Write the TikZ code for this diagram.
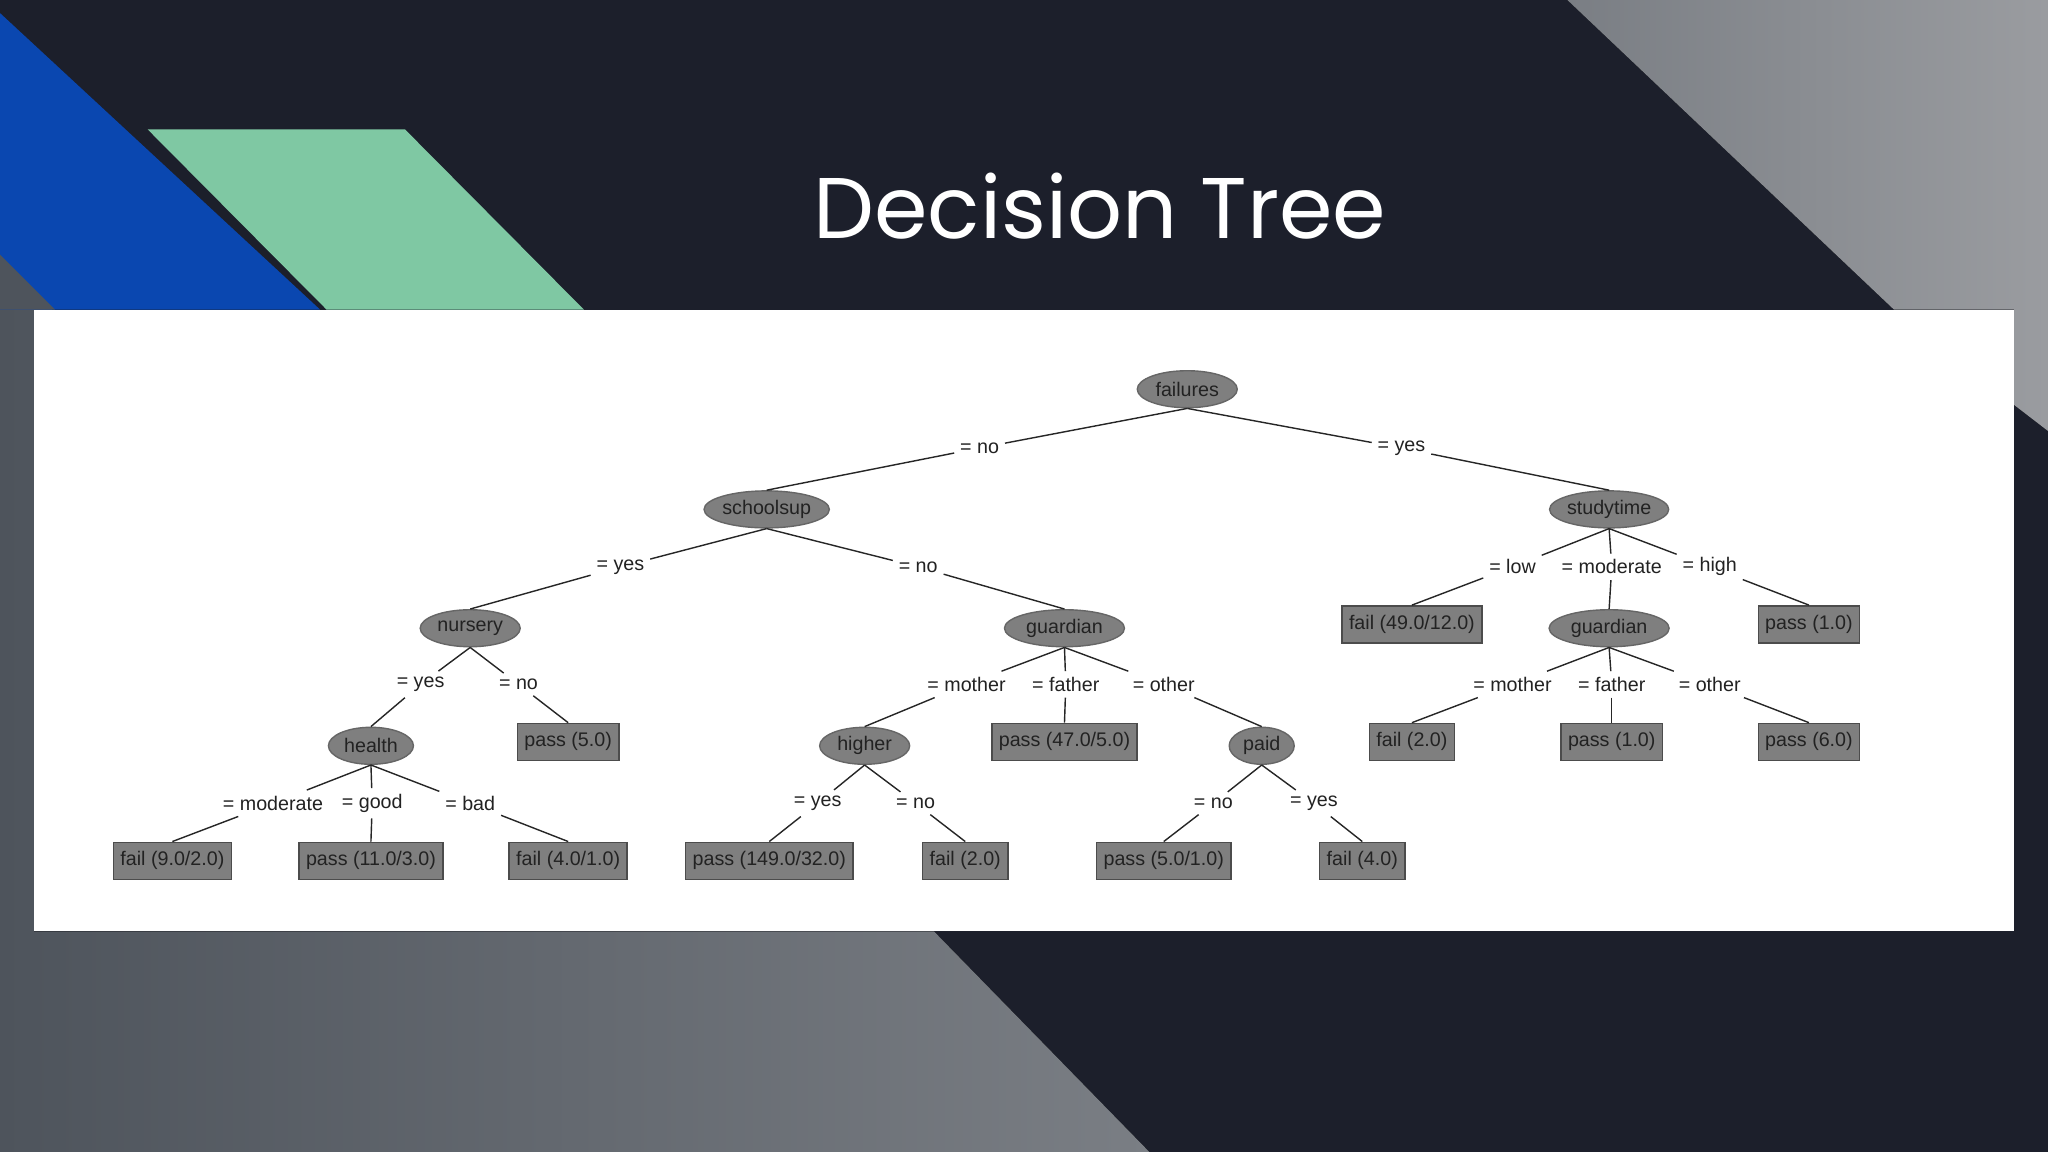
\documentclass[tikz,border=0pt]{standalone}
\usepackage{fontspec}
\setmainfont{Liberation Sans}
\newfontfamily\titlefont{Poppins}
\usetikzlibrary{shapes.geometric}
\definecolor{navy}{HTML}{1C1F2B}
\definecolor{bluec}{HTML}{0A47B0}
\definecolor{greenc}{HTML}{7FC8A3}
\definecolor{nodeg}{HTML}{7F7F7F}
\definecolor{txtg}{HTML}{222222}
\definecolor{photoA}{HTML}{4E545C}
\definecolor{photoB}{HTML}{7A7E84}
\definecolor{photoC}{HTML}{9A9CA0}
\tikzset{
 inner/.style={ellipse,fill=nodeg,draw=nodeg!80!black,minimum width=1.0cm,minimum height=0.37cm,inner sep=0pt,font=\fontsize{5.6}{6}\selectfont,text=txtg},
 leaf/.style={rectangle,fill=nodeg,draw=nodeg!60!black,minimum height=0.37cm,inner sep=2pt,font=\fontsize{5.6}{6}\selectfont,text=txtg},
 lab/.style={inner sep=1.5pt,font=\fontsize{5.6}{6}\selectfont,text=txtg},
 edge/.style={draw=black!85,line width=0.4pt},
}
\begin{document}
\begin{tikzpicture}[x=0.013061cm,y=-0.013061cm]
\useasboundingbox (0,0) rectangle (1568,882);
\fill[navy] (0,0) rectangle (1568,882);
% gray photo regions
\fill[left color=photoA,right color=photoB] (0,195) -- (40,237) -- (26,713) -- (715,713) -- (880,882) -- (0,882) -- cycle;
\fill[left color=photoB,right color=photoC] (1200,0) -- (1568,0) -- (1568,330) -- (1542,310) -- (1542,237) -- (1450,237) -- cycle;
\fill[bluec] (0,10) -- (245,237) -- (0,237) -- cycle;
\fill[photoA] (0,195) -- (42,237) -- (0,237) -- cycle;
\fill[greenc] (113,99) -- (310,99) -- (447,237) -- (250,237) -- cycle;
\node[text=white,font=\titlefont\fontsize{24.5}{26}\selectfont] (title) at (842,158) {Decision Tree};
\fill[white] (26,237) rectangle (1542,713);
% nodes
\node[inner] (failures) at (909,298) {failures};
\node[inner] (schoolsup) at (587,390) {schoolsup};
\node[inner] (studytime) at (1232,390) {studytime};
\node[inner] (nursery) at (360,481) {nursery};
\node[inner,minimum width=1.2cm] (guardian) at (815,481) {guardian};
\node[leaf] (f49) at (1081,478) {fail (49.0/12.0)};
\node[inner,minimum width=1.2cm] (guardian2) at (1232,481) {guardian};
\node[leaf] (p1a) at (1385,478) {pass (1.0)};
\node[inner,minimum width=0.85cm] (health) at (284,571) {health};
\node[leaf] (p5) at (435,568) {pass (5.0)};
\node[inner,minimum width=0.9cm] (higher) at (662,571) {higher};
\node[leaf] (p47) at (815,568) {pass (47.0/5.0)};
\node[inner,minimum width=0.65cm] (paid) at (966,571) {paid};
\node[leaf] (f2a) at (1081,568) {fail (2.0)};
\node[leaf] (p1b) at (1234,568) {pass (1.0)};
\node[leaf] (p6) at (1385,568) {pass (6.0)};
\node[leaf] (f9) at (132,659) {fail (9.0/2.0)};
\node[leaf] (p11) at (284,659) {pass (11.0/3.0)};
\node[leaf] (f4a) at (435,659) {fail (4.0/1.0)};
\node[leaf] (p149) at (589,659) {pass (149.0/32.0)};
\node[leaf] (f2b) at (739,659) {fail (2.0)};
\node[leaf] (p5b) at (891,659) {pass (5.0/1.0)};
\node[leaf] (f4b) at (1043,659) {fail (4.0)};
% labels
\node[lab] (l1) at (750,343) {= no};
\node[lab] (l2) at (1073,343) {= yes};
\node[lab] (l3) at (475,434) {= yes};
\node[lab] (l4) at (703,434) {= no};
\node[lab] (l5) at (1158,434) {= low};
\node[lab] (l6) at (1234,434) {= moderate};
\node[lab] (l7) at (1309,434) {= high};
\node[lab] (l8) at (322,524) {= yes};
\node[lab] (l9) at (397,524) {= no};
\node[lab] (l10) at (740,524) {= mother};
\node[lab] (l11) at (816,524) {= father};
\node[lab] (l12) at (891,524) {= other};
\node[lab] (l13) at (1158,524) {= mother};
\node[lab] (l14) at (1234,524) {= father};
\node[lab] (l15) at (1309,524) {= other};
\node[lab] (l16) at (209,615) {= moderate};
\node[lab] (l17) at (285,615) {= good};
\node[lab] (l18) at (360,615) {= bad};
\node[lab] (l19) at (626,615) {= yes};
\node[lab] (l20) at (701,615) {= no};
\node[lab] (l21) at (929,615) {= no};
\node[lab] (l22) at (1006,615) {= yes};
% edges
\foreach \p/\l/\c in {failures/l1/schoolsup,failures/l2/studytime,schoolsup/l3/nursery,schoolsup/l4/guardian,
 studytime/l5/f49,studytime/l6/guardian2,studytime/l7/p1a,nursery/l8/health,nursery/l9/p5,
 guardian/l10/higher,guardian/l11/p47,guardian/l12/paid,guardian2/l13/f2a,guardian2/l14/p1b,guardian2/l15/p6,
 health/l16/f9,health/l17/p11,health/l18/f4a,higher/l19/p149,higher/l20/f2b,paid/l21/p5b,paid/l22/f4b}{
 \draw[edge] (\p.south) -- (\l);
 \draw[edge] (\l) -- (\c.north);
}
\end{tikzpicture}
\end{document}
